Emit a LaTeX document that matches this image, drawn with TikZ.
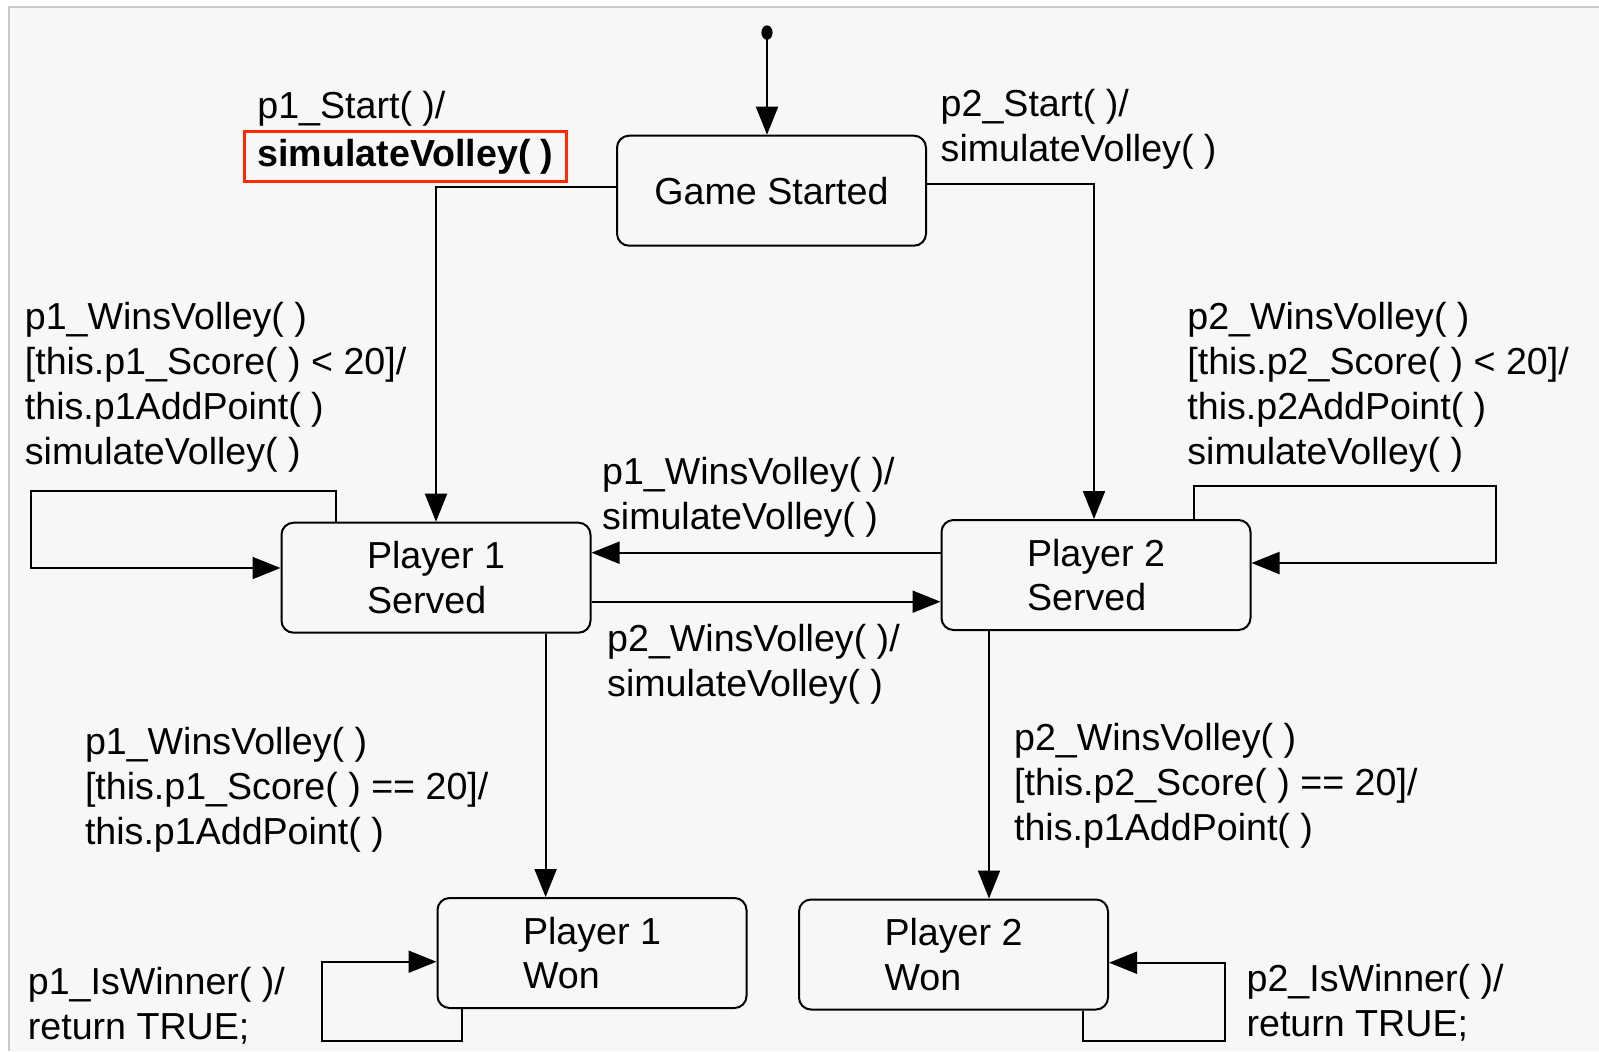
\documentclass[tikz,border=0pt]{standalone}
\usepackage{fontspec}
\setmainfont{Liberation Sans}
\usetikzlibrary{arrows.meta}
\definecolor{panel}{HTML}{F7F7F7}
\definecolor{panelline}{HTML}{C8C8C8}
\definecolor{hilite}{HTML}{FF2A00}
\begin{document}
\begin{tikzpicture}[x=0.5pt,y=-0.5pt,
  every node/.style={font=\fontsize{18.8}{22.4}\selectfont},
  state/.style={draw, line width=1pt, rounded corners=6pt, minimum width=154.5pt, minimum height=55pt, align=left, inner sep=0pt},
  lbl/.style={anchor=base west, align=left, inner sep=0pt},
  arr/.style={line width=1pt, -{Triangle[length=14pt,width=11pt]}},
  ln/.style={line width=1pt}]
\useasboundingbox (0,0) rectangle (1599,1051);
\fill[white] (0,0) rectangle (1599,1051);
\fill[panel] (9,7) rectangle (1599,1051);
\draw[panelline, line width=0.6pt] (9,1051) -- (9,7) -- (1599,7);

% states
\node[state] (gs) at (771.5,190.7) {Game Started};
\node[state] (p1s) at (436,577.7) {Player 1\\Served};
\node[state] (p2s) at (1096,575) {Player 2\\Served};
\node[state] (p1w) at (592,953) {Player 1\\Won};
\node[state] (p2w) at (953.5,954.5) {Player 2\\Won};

% initial
\fill (767,32.6) ellipse (2.8pt and 3.6pt);
\coordinate (init) at (767,32.6);
\draw[arr] (init) -- (init |- gs.north);

% start transitions
\draw[arr] ([yshift=2pt]gs.west) -| (p1s.north);
\draw[arr] ([yshift=3.5pt]gs.east) -| ([xshift=-1pt]p2s.north);

% self loops on served states
\coordinate (l1a) at (335.5,490.5);
\coordinate (l1b) at (30.6,568);
\draw[arr] (p1s.north -| l1a) -- (l1a) -- (l1b |- l1a) -- (l1b) -- (l1b -| p1s.west);
\coordinate (l2a) at (1194,486.4);
\coordinate (l2b) at (1496,563);
\draw[arr] (p2s.north -| l2a) -- (l2a) -- (l2b |- l2a) -- (l2b) -- (l2b -| p2s.east);

% between served states
\coordinate (ya) at (0,552.7);
\coordinate (yb) at (0,601.7);
\draw[arr] (p2s.west |- ya) -- (p1s.east |- ya);
\draw[arr] (p1s.east |- yb) -- (p2s.west |- yb);

% to won states
\coordinate (xa) at (545.6,0);
\coordinate (xb) at (989,0);
\draw[arr] (p1s.south -| xa) -- (p1w.north -| xa);
\draw[arr] (p2s.south -| xb) -- (p2w.north -| xb);

% won self loops
\coordinate (w1a) at (462,1041);
\coordinate (w1b) at (322,961.7);
\draw[arr] (p1w.south -| w1a) -- (w1a) -- (w1b |- w1a) -- (w1b) -- (w1b -| p1w.west);
\coordinate (w2a) at (1083,1041);
\coordinate (w2b) at (1225,962.7);
\draw[arr] (p2w.south -| w2a) -- (w2a) -- (w2b |- w2a) -- (w2b) -- (w2b -| p2w.east);

% labels (anchor at baseline of last line)
\node[lbl] (t1) at (257,118.3) {p1\_Start( )/};
\node[draw=hilite, line width=1.5pt, anchor=west, inner xsep=6.5pt, inner ysep=0pt, minimum height=25pt, font=\fontsize{18.8}{22.4}\selectfont\bfseries] (t1b) at (243,156.5) {simulateVolley( )};
\node[lbl] (t2) at (940.3,161.2) {p2\_Start( )/\\simulateVolley( )};
\node[lbl] (t3) at (24.5,464.1) {p1\_WinsVolley( )\\{}[this.p1\_Score( ) < 20]/\\this.p1AddPoint( )\\simulateVolley( )};
\node[lbl] (t4) at (1187,464.1) {p2\_WinsVolley( )\\{}[this.p2\_Score( ) < 20]/\\this.p2AddPoint( )\\simulateVolley( )};
\node[lbl] (t5) at (601.7,529.3) {p1\_WinsVolley( )/\\simulateVolley( )};
\node[lbl] (t6) at (606.8,696.6) {p2\_WinsVolley( )/\\simulateVolley( )};
\node[lbl] (t7) at (84.6,844.5) {p1\_WinsVolley( )\\{}[this.p1\_Score( ) == 20]/\\this.p1AddPoint( )};
\node[lbl] (t8) at (1013.7,840.4) {p2\_WinsVolley( )\\{}[this.p2\_Score( ) == 20]/\\this.p1AddPoint( )};
\node[lbl] (t9) at (27.5,1039.2) {p1\_IsWinner( )/\\return TRUE;};
\node[lbl] (t10) at (1246.2,1036.1) {p2\_IsWinner( )/\\return TRUE;};
\end{tikzpicture}
\end{document}
